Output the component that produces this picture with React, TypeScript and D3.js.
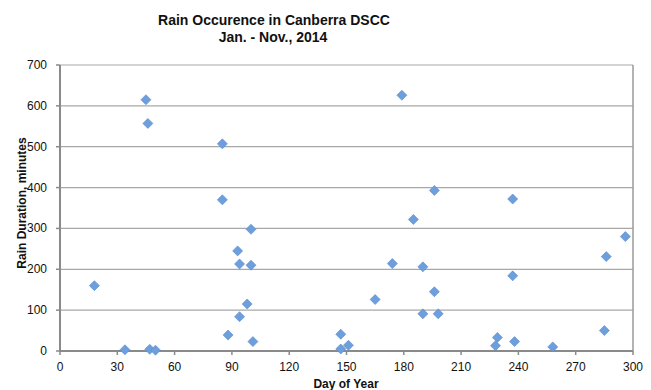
import React from "react";
import * as d3 from "d3";

// rain events, day of year vs duration (minutes)
const days = [18, 34, 45, 46, 47, 50, 85, 85, 88, 93, 94, 100, 100, 98, 94, 101, 147, 147, 151, 165, 174, 190, 190, 196, 198, 185, 228, 229, 237, 238, 258, 285, 286, 296, 179, 196, 237];
const minutes = [160, 3, 615, 557, 4, 2, 507, 370, 39, 245, 213, 298, 210, 115, 84, 23, 41, 5, 14, 126, 214, 206, 91, 145, 91, 322, 13, 33, 184, 23, 10, 50, 231, 280, 626, 393, 372];

const xTicks = [0, 30, 60, 90, 120, 150, 180, 210, 240, 270, 300];
const yTicks = [0, 100, 200, 300, 400, 500, 600, 700];

const titleLines = ["Rain Occurence in Canberra DSCC", "Jan. - Nov., 2014"];
const xTitle = "Day of Year";
const yTitle = "Rain Duration, minutes";

const W = 651;
const H = 390;
const margin = { top: 65, right: 18, bottom: 39, left: 60 };
const font = "'Liberation Sans Narrow', 'Liberation Sans', Arial, sans-serif";

export default function App() {
  const x = d3.scaleLinear().domain([0, 300]).range([margin.left, W - margin.right]);
  const y = d3.scaleLinear().domain([0, 700]).range([H - margin.bottom, margin.top]);
  const diamond = d3.symbol(d3.symbolSquare, 50)();
  const points = days.map((d, i) => ({ d, m: minutes[i] }));

  return (
    <svg width={W} height={H} style={{ position: "absolute", left: 0, top: 0, background: "#fff" }}>
      {/* title */}
      <g fontFamily={font} fontWeight="bold" fontSize={14} fill="#111" textAnchor="middle">
        <text x={274} y={25}>{titleLines[0]}</text>
        <text x={273} y={42}>{titleLines[1]}</text>
      </g>

      {/* grid */}
      {yTicks.slice(1).map(t => (
        <line key={t} x1={x(0)} x2={x(300)} y1={y(t)} y2={y(t)} stroke="#a8a8a8" strokeWidth={1.2} />
      ))}
      <line x1={x(300)} x2={x(300)} y1={y(0)} y2={y(700)} stroke="#9a9a9a" strokeWidth={1.5} />

      {/* axes */}
      <line x1={x(0)} x2={x(0)} y1={y(0) + 1} y2={y(700)} stroke="#8a8a8a" strokeWidth={2} />
      <line x1={x(0) - 1} x2={x(300)} y1={y(0)} y2={y(0)} stroke="#8a8a8a" strokeWidth={2} />
      {yTicks.map(t => (
        <g key={t}>
          <line x1={x(0) - 4} x2={x(0)} y1={y(t)} y2={y(t)} stroke="#8a8a8a" strokeWidth={1.5} />
          <text x={47} y={y(t) + 4} textAnchor="end" fontFamily={font} fontSize={12} fill="#111">{t}</text>
        </g>
      ))}
      {xTicks.map(t => (
        <g key={t}>
          <line x1={x(t)} x2={x(t)} y1={y(0)} y2={y(0) + 4} stroke="#8a8a8a" strokeWidth={1.5} />
          <text x={x(t)} y={371} textAnchor="middle" fontFamily={font} fontSize={12} fill="#111">{t}</text>
        </g>
      ))}

      {/* axis titles */}
      <text x={346} y={388} textAnchor="middle" fontFamily={font} fontWeight="bold" fontSize={12} fill="#111">{xTitle}</text>
      <text transform={`translate(26,203) rotate(-90)`} textAnchor="middle" fontFamily={font} fontWeight="bold" fontSize={12} fill="#111">{yTitle}</text>

      {/* points */}
      {points.map((p, i) => (
        <path key={i} d={diamond} transform={`translate(${x(p.d)},${y(p.m)}) rotate(45)`}
          fill="#6d9fdc" stroke="#5b8ccc" strokeWidth={0.6} />
      ))}
    </svg>
  );
}
